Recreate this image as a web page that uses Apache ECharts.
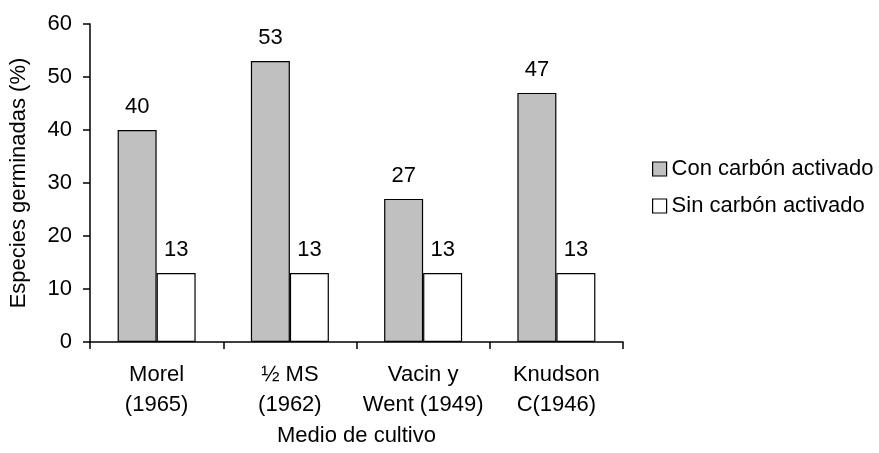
<!DOCTYPE html>
<html>
<head>
<meta charset="UTF-8">
<title>Especies germinadas</title>
<script src="https://cdn.jsdelivr.net/npm/echarts@6/dist/echarts.min.js"></script>
<style>
    body { margin: 0; background: #fff; }
    #chart { width: 879px; height: 453px; }
</style>
</head>
<body>
<div id="chart"></div>
<script>
// datos
const categorias = ['Morel\n(1965)', '½ MS\n(1962)', 'Vacin y\nWent (1949)', 'Knudson\nC(1946)'];
const conCarbon = [40, 53, 27, 47];
const sinCarbon = [13, 13, 13, 13];
const nombres = ['Con carbón activado', 'Sin carbón activado'];

const fuente = 'Liberation Sans, Arial, sans-serif';
const chart = echarts.init(document.getElementById('chart'));

const etiqueta = {
    show: true,
    position: 'top',
    distance: 12,
    color: '#000',
    fontSize: 22,
    fontFamily: fuente
};

chart.setOption({
    animation: false,
    textStyle: { fontFamily: fuente, color: '#000' },
    grid: { left: 90, right: 256, top: 24, bottom: 111 },
    legend: {
        orient: 'vertical',
        left: 652,
        top: 158,
        padding: 0,
        itemWidth: 14,
        itemHeight: 14,
        itemGap: 15,
        icon: 'rect',
        itemStyle: { borderColor: '#000', borderWidth: 1.2 },
        textStyle: { fontSize: 22, color: '#000', fontFamily: fuente },
        data: nombres
    },
    xAxis: {
        type: 'category',
        data: categorias,
        name: 'Medio de cultivo',
        nameLocation: 'middle',
        nameGap: 82,
        nameTextStyle: { fontSize: 22, color: '#000' },
        axisLine: { show: true, lineStyle: { color: '#000', width: 1.5 } },
        axisTick: { show: true, length: 7, lineStyle: { color: '#000', width: 1.5 } },
        axisLabel: { interval: 0, fontSize: 22, color: '#000', margin: 18, lineHeight: 30 }
    },
    yAxis: {
        type: 'value',
        min: 0,
        max: 60,
        interval: 10,
        name: 'Especies germinadas (%)',
        nameLocation: 'middle',
        nameGap: 60,
        nameTextStyle: { fontSize: 22, color: '#000' },
        splitLine: { show: false },
        axisLine: { show: true, lineStyle: { color: '#000', width: 1.5 } },
        axisTick: { show: true, length: 7, lineStyle: { color: '#000', width: 1.5 } },
        axisLabel: { fontSize: 22, color: '#000', margin: 18 }
    },
    series: [
        {
            name: nombres[0],
            type: 'bar',
            data: conCarbon,
            barWidth: 39,
            barGap: '0%',
            itemStyle: { color: '#c0c0c0', borderColor: '#000', borderWidth: 1.2 },
            label: etiqueta
        },
        {
            name: nombres[1],
            type: 'bar',
            data: sinCarbon,
            barWidth: 39,
            itemStyle: { color: '#fff', borderColor: '#000', borderWidth: 1.2 },
            label: etiqueta
        }
    ]
});
</script>
</body>
</html>
